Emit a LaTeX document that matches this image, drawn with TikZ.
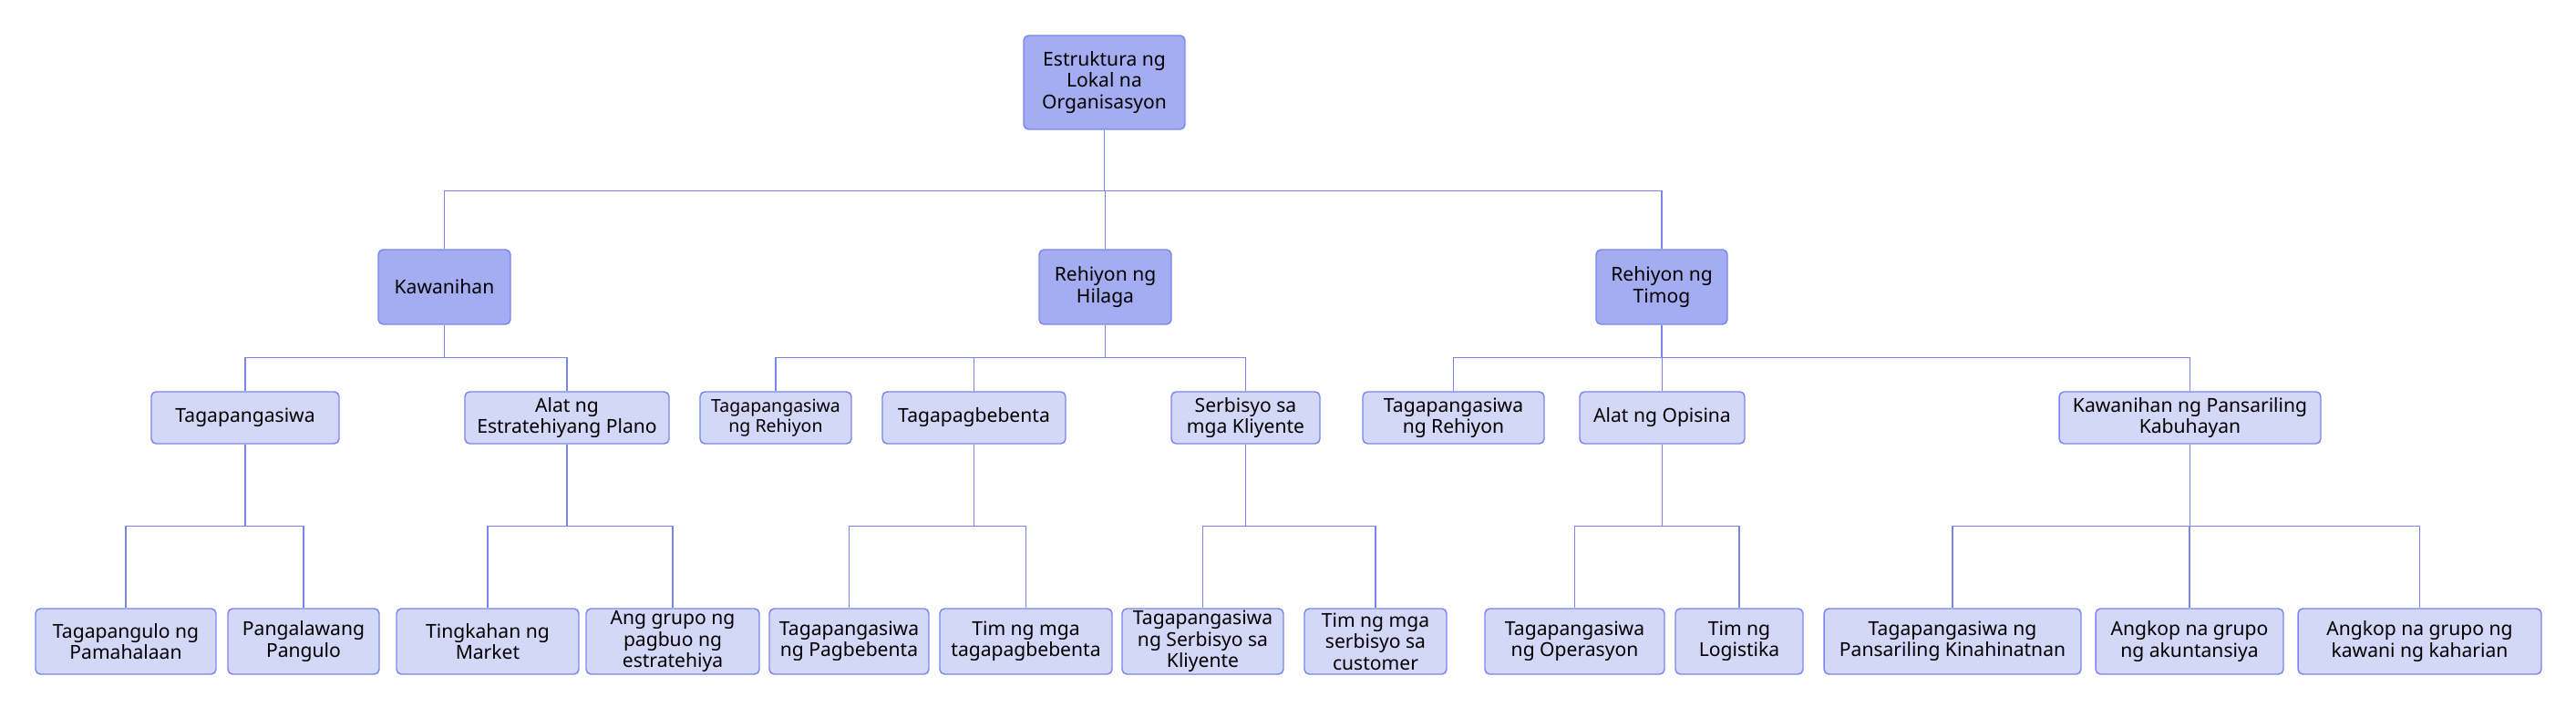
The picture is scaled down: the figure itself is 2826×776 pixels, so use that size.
\documentclass[tikz,border=0pt]{standalone}
\usepackage{fontspec}
\setmainfont{Noto Sans}
\usetikzlibrary{positioning}
\definecolor{edge}{HTML}{7A84EE}
\definecolor{head}{HTML}{A5ADF2}
\definecolor{pale}{HTML}{D4D8F8}
\tikzset{
  unit/.style={draw=edge,rounded corners=3pt,line width=0.8pt,align=center,inner sep=1pt,
               font=\fontsize{12}{13.3}\selectfont,text=black},
  top/.style={unit,fill=head,minimum height=#1*0.02cm},
  sub/.style={unit,fill=pale,minimum height=#1*0.02cm},
  link/.style={draw=edge,line width=0.8pt},
}
\begin{document}
\begin{tikzpicture}[x=0.02cm,y=-0.02cm]
        \useasboundingbox (0,0) rectangle (2826,776);
        \node[top=103,minimum width=3.54cm] (org) at (1211.5,90.5) {Estruktura ng\\Lokal na\\Organisasyon};
        \node[top=82,minimum width=2.9cm] (kaw) at (487.5,315) {Kawanihan};
        \node[top=82,minimum width=2.9cm] (hil) at (1212.5,315) {Rehiyon ng\\Hilaga};
        \node[top=82,minimum width=2.88cm] (tim) at (1823,315) {Rehiyon ng\\Timog};
        \node[sub=57,minimum width=4.12cm] (kaw1) at (269,458.5) {Tagapangasiwa};
        \node[sub=57,minimum width=4.48cm] (kaw2) at (622,458.5) {Alat ng\\Estratehiyang Plano};
        \node[sub=57,minimum width=3.32cm,font=\fontsize{11.1}{12.6}\selectfont] (hil1) at (851,458.5) {Tagapangasiwa\\ng Rehiyon};
        \node[sub=57,minimum width=4.02cm] (hil2) at (1068.5,458.5) {Tagapagbebenta};
        \node[sub=57,minimum width=3.26cm] (hil3) at (1366.5,458.5) {Serbisyo sa\\mga Kliyente};
        \node[sub=57,minimum width=3.98cm] (tim1) at (1594.5,458.5) {Tagapangasiwa\\ng Rehiyon};
        \node[sub=57,minimum width=3.62cm] (tim2) at (1823.5,458.5) {Alat ng Opisina};
        \node[sub=57,minimum width=5.74cm] (tim3) at (2402.5,458.5) {Kawanihan ng Pansariling\\Kabuhayan};
        \node[sub=72,minimum width=3.96cm] (kaw11) at (138,704) {Tagapangulo ng\\Pamahalaan};
        \node[sub=72,minimum width=3.32cm] (kaw12) at (333,704) {Pangalawang\\Pangulo};
        \node[sub=72,minimum width=4cm] (kaw21) at (535,704) {Tingkahan ng\\Market};
        \node[sub=72,minimum width=3.8cm] (kaw22) at (738,704) {Ang grupo ng\\pagbuo ng\\estratehiya};
        \node[sub=72,minimum width=3.5cm] (hil21) at (931.5,704) {Tagapangasiwa\\ng Pagbebenta};
        \node[sub=72,minimum width=3.78cm] (hil22) at (1125.5,704) {Tim ng mga\\tagapagbebenta};
        \node[sub=72,minimum width=3.54cm] (hil31) at (1319.5,704) {Tagapangasiwa\\ng Serbisyo sa\\Kliyente};
        \node[sub=72,minimum width=3.12cm] (hil32) at (1509,704) {Tim ng mga\\serbisyo sa\\customer};
        \node[sub=72,minimum width=3.94cm] (tim21) at (1727.5,704) {Tagapangasiwa\\ng Operasyon};
        \node[sub=72,minimum width=2.8cm] (tim22) at (1908,704) {Tim ng\\Logistika};
        \node[sub=72,minimum width=5.64cm] (tim31) at (2142,704) {Tagapangasiwa ng\\Pansariling Kinahinatnan};
        \node[sub=72,minimum width=4.12cm] (tim32) at (2402,704) {Angkop na grupo\\ng akuntansiya};
        \node[sub=72,minimum width=5.34cm] (tim33) at (2654.5,704) {Angkop na grupo ng\\kawani ng kaharian};
        \foreach \c in {kaw,hil,tim} \draw[link] (org.south) -- ++(0,67) -| (\c.north);
        \foreach \c in {kaw1,kaw2} \draw[link] (kaw.south) -- ++(0,36) -| (\c.north);
        \foreach \c in {hil1,hil2,hil3} \draw[link] (hil.south) -- ++(0,36) -| (\c.north);
        \foreach \c in {tim1,tim2,tim3} \draw[link] (tim.south) -- ++(0,36) -| (\c.north);
        \foreach \c in {kaw11,kaw12} \draw[link] (kaw1.south) -- ++(0,90) -| (\c.north);
        \foreach \c in {kaw21,kaw22} \draw[link] (kaw2.south) -- ++(0,90) -| (\c.north);
        \foreach \c in {hil21,hil22} \draw[link] (hil2.south) -- ++(0,90) -| (\c.north);
        \foreach \c in {hil31,hil32} \draw[link] (hil3.south) -- ++(0,90) -| (\c.north);
        \foreach \c in {tim21,tim22} \draw[link] (tim2.south) -- ++(0,90) -| (\c.north);
        \foreach \c in {tim31,tim32,tim33} \draw[link] (tim3.south) -- ++(0,90) -| (\c.north);
      \end{tikzpicture}
\end{document}
